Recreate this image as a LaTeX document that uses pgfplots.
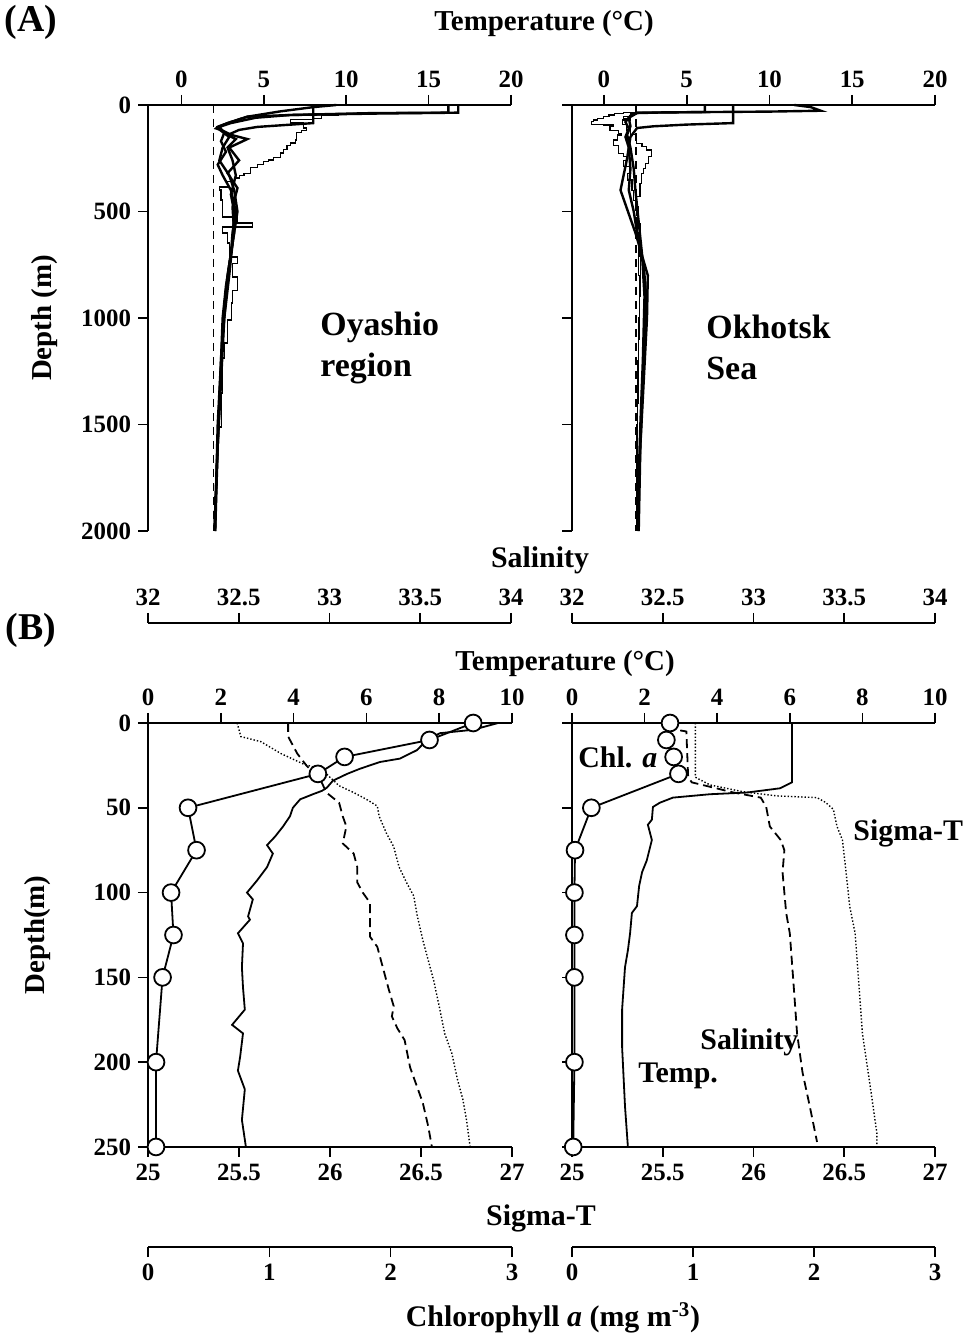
\documentclass[border=0pt]{standalone}
\usepackage{pgfplots}
\pgfplotsset{compat=1.18}
\usepackage{fontspec}
\setmainfont{Liberation Serif}

\newcommand{\fs}[1]{\fontsize{#1}{#1}\selectfont\bfseries}

\pgfplotsset{
  prof/.style={
    scale only axis, enlargelimits=false, clip=false,
    y dir=reverse,
    tick align=outside,
    major tick length=5bp,
    tick style={black, line width=0.8bp},
    axis line style={-, line width=1bp},
    every tick label/.append style={font=\fs{12.5}},
    /pgf/number format/assume math mode=true,
    /pgf/number format/1000 sep={},
  },
  strip/.style={prof, height=1bp, ymin=0, ymax=1, hide y axis},
  profthick/.style={black, line width=1.2bp, no marks},
  profthin/.style={black, line width=0.6bp, no marks, const plot},
  profref/.style={black, line width=0.8bp, dash pattern=on 4bp off 3bp, no marks},
  tline/.style={black, line width=0.9bp, no marks},
  sline/.style={black, line width=0.9bp, dash pattern=on 4.5bp off 2.5bp, no marks},
  dline/.style={black, line width=0.7bp, densely dotted, no marks},
  chlline/.style={black, line width=0.9bp, mark=*, mark size=4.2bp, mark options={fill=white, draw=black, solid, line width=0.9bp}},
}

\begin{document}
\begin{tikzpicture}
\path[use as bounding box] (0,0) rectangle (486bp,667.5bp);

% ---------- (A) Oyashio region ----------
\begin{axis}[prof, at={(74bp,615bp)}, anchor=north west, width=181.5bp, height=213bp,
  xmin=-2.03, xmax=20, ymin=0, ymax=2000,
  axis x line*=top, axis y line*=left,
  xtick={0,5,10,15,20}, ytick={0,500,1000,1500,2000}]
  \addplot[profref] coordinates {(1.95,0) (1.95,2000)};
  \addplot[profthick] coordinates {(16.8,0) (16.8,36) (12,40) (6.6,47) (4.0,55) (2.8,85) (2.2,103) (2.1,110) (2.5,120) (3.0,140) (4.0,160) (2.9,200) (3.5,260) (2.8,320) (3.4,390) (3.1,480) (3.2,600) (3.0,700) (2.8,800) (2.6,950) (2.4,1200) (2.2,1500) (2.1,1800) (2.05,2000)};
  \addplot[profthick] coordinates {(16.2,0) (16.2,36) (11.6,38) (6.6,47) (4.5,60) (3.0,85) (2.3,103) (2.6,130) (2.4,170) (2.7,220) (2.2,280) (2.5,330) (3.0,400) (3.3,500) (3.1,600) (3.0,700) (2.7,850) (2.5,1000) (2.35,1300) (2.2,1600) (2.0,2000)};
  \addplot[profthick] coordinates {(9.4,0) (8.0,10) (6.0,30) (4.0,55) (2.8,85) (2.2,103) (2.3,115) (2.9,150) (2.5,200) (2.3,260) (2.9,330) (3.2,400) (3.4,500) (3.2,600) (2.9,750) (2.7,900) (2.5,1100) (2.3,1400) (2.15,1700) (2.0,2000)};
  \addplot[profthick] coordinates {(8.0,0) (8.0,85) (4.6,103) (3.5,117) (2.8,141) (3.3,160) (2.8,200) (3.1,260) (3.3,330) (3.0,420) (3.2,500) (3.1,650) (2.9,800) (2.6,1000) (2.4,1300) (2.2,1600) (2.05,2000)};
  \addplot[profthin] coordinates {(10.6,40) (9.5,50) (8.5,62) (8.0,70) (6.6,85) (7.4,108) (7.6,118) (7.3,130) (7.0,164) (6.9,178) (6.6,190) (6.4,210) (6.2,225) (6.0,245) (5.6,258) (5.3,267) (5.0,280) (4.6,295) (4.2,320) (3.8,332) (3.5,343) (3.2,360) (2.8,385) (2.3,399) (2.4,446) (2.5,526) (3.4,554) (4.3,573) (2.5,601) (2.8,648) (2.9,714) (3.4,745) (3.1,808) (3.4,870) (3.1,930) (3.06,1009) (2.8,1117) (2.6,1188) (2.5,1352) (2.45,1512) (2.2,1667) (2.15,1840) (2.03,2000)};
\end{axis}
\begin{axis}[strip, at={(74bp,356bp)}, anchor=north west, width=181.5bp,
  xmin=32, xmax=34, axis x line*=top, xtick={32,32.5,33,33.5,34}]
\end{axis}

% ---------- (A) Okhotsk Sea ----------
\begin{axis}[prof, at={(286bp,615bp)}, anchor=north west, width=181.5bp, height=213bp,
  xmin=-1.93, xmax=20, ymin=0, ymax=2000,
  axis x line*=top, axis y line*=left,
  xtick={0,5,10,15,20}, ytick={0,500,1000,1500,2000}, yticklabels={}]
  \addplot[profref] coordinates {(1.95,0) (1.95,2000)};
  \addplot[profthick] coordinates {(11.5,0) (12.5,10) (13.1,27) (10,31) (5,34) (2.0,36) (1.6,50) (1.3,80) (1.5,110) (1.3,150) (1.5,200) (1.6,300) (1.5,400) (1.8,500) (2.0,600) (2.4,750) (2.55,900) (2.45,1100) (2.3,1400) (2.15,1700) (2.05,2000)};
  \addplot[profthick] coordinates {(7.8,0) (7.8,85) (5,92) (3,100) (2.0,108) (1.6,150) (1.4,250) (1.0,400) (1.9,600) (2.65,800) (2.6,1000) (2.4,1300) (2.2,1600) (2.1,2000)};
  \addplot[profthick] coordinates {(6.1,0) (6.1,33) (3.5,35) (2.0,38) (1.5,60) (1.6,100) (1.4,140) (1.6,200) (1.8,300) (1.9,400) (2.1,550) (2.3,700) (2.45,900) (2.35,1200) (2.2,1500) (2.0,2000)};
  \addplot[profthin] coordinates {(1.93,36) (1.2,40) (0.66,47) (0.3,55) (-0.04,63) (-0.4,70) (-0.65,78) (-0.75,90) (-0.04,94) (0.56,102) (0.36,120) (0.87,133) (1.07,141) (0.8,164) (0.56,190) (0.87,227) (1.2,243) (1.37,260) (1.17,290) (1.57,321) (1.4,352) (1.7,400) (1.8,450) (1.95,520) (2.05,600) (2.1,800) (2.15,1000) (2.1,1200) (2.05,1500) (2.0,2000)};
  \addplot[profthin] coordinates {(1.93,40) (1.6,55) (1.2,65) (1.57,70) (1.1,90) (1.37,117) (1.6,140) (1.97,180) (2.3,195) (2.58,211) (2.88,243) (2.68,274) (2.5,300) (2.38,321) (2.28,368) (2.18,430) (1.97,446) (1.93,477) (2.07,556) (2.18,712) (2.2,900) (2.15,1100) (2.1,1400) (2.05,1700) (2.02,2000)};
\end{axis}
\begin{axis}[strip, at={(286bp,356bp)}, anchor=north west, width=181.5bp,
  xmin=32, xmax=34, axis x line*=top, xtick={32,32.5,33,33.5,34}]
\end{axis}

% ---------- (B) left ----------
\begin{axis}[prof, at={(74bp,306bp)}, anchor=north west, width=182bp, height=212bp,
  xmin=0, xmax=10, ymin=0, ymax=250,
  axis x line*=top, axis y line*=left,
  xtick={0,2,4,6,8,10}, ytick={0,50,100,150,200,250}]
  \addplot[tline] coordinates {(9.62,0) (8.93,4) (8.02,6) (7.66,10) (7.39,16) (6.92,21) (6.37,23) (5.82,27) (5.47,30) (5.08,34) (4.92,38) (4.78,40) (4.53,42) (4.18,45) (3.98,50) (3.90,55) (3.71,61) (3.49,67) (3.27,72) (3.43,77) (3.27,85) (2.99,93) (2.72,100) (2.88,104) (2.75,114) (2.80,116) (2.47,124) (2.61,130) (2.58,144) (2.61,156) (2.66,169) (2.31,178) (2.61,183) (2.53,197) (2.47,205) (2.66,216) (2.58,234) (2.69,250)};
\end{axis}
\begin{axis}[prof, at={(74bp,306bp)}, anchor=north west, width=182bp, height=212bp,
  xmin=25, xmax=27, ymin=0, ymax=250,
  axis x line*=bottom, hide y axis, xtick={25,25.5,26,26.5,27}]
  \addplot[dline] coordinates {(25.49,0) (25.51,8) (25.62,11) (25.73,18) (25.85,24) (25.91,26) (25.98,30) (26.05,37) (26.13,41) (26.20,45) (26.26,49) (26.27,55) (26.31,65) (26.35,73) (26.38,85) (26.42,94) (26.46,102) (26.48,114) (26.51,128) (26.54,140) (26.57,152) (26.60,167) (26.63,183) (26.67,195) (26.70,210) (26.73,222) (26.75,234) (26.77,250)};
\end{axis}
\begin{axis}[prof, at={(74bp,306bp)}, anchor=north west, width=182bp, height=212bp,
  xmin=32, xmax=34, ymin=0, ymax=250, hide axis]
  \addplot[sline] coordinates {(32.77,0) (32.77,8) (32.82,18) (32.87,25) (32.95,34) (32.98,41) (33.05,47) (33.07,55) (33.09,61) (33.07,71) (33.13,77) (33.15,85) (33.15,94) (33.18,100) (33.22,106) (33.22,116) (33.22,126) (33.26,132) (33.29,144) (33.32,156) (33.35,167) (33.34,173) (33.37,180) (33.41,187) (33.44,203) (33.48,215) (33.51,224) (33.54,238) (33.56,250)};
\end{axis}
\begin{axis}[prof, at={(74bp,306bp)}, anchor=north west, width=182bp, height=262bp,
  xmin=0, xmax=3, ymin=0, ymax=309,
  axis x line*=bottom, hide y axis, xtick={0,1,2,3}]
  \addplot[chlline] coordinates {(2.68,0) (2.32,10) (1.62,20) (1.40,30) (0.33,50) (0.40,75) (0.19,100) (0.21,125) (0.12,150) (0.066,200) (0.066,250)};
\end{axis}

% ---------- (B) right ----------
\begin{axis}[prof, at={(286bp,306bp)}, anchor=north west, width=181.5bp, height=212bp,
  xmin=0, xmax=10, ymin=0, ymax=250,
  axis x line*=top, axis y line*=left,
  xtick={0,2,4,6,8,10}, ytick={0,50,100,150,200,250}, yticklabels={}]
  \addplot[tline] coordinates {(6.06,0) (6.06,35) (5.73,38.5) (4.82,41) (3.80,42) (2.78,44) (2.42,47) (2.23,49.5) (2.20,57) (2.09,60) (2.2,69) (2.06,81) (1.93,88) (1.85,96) (1.79,108) (1.65,112) (1.60,124) (1.54,134) (1.46,144) (1.38,169) (1.38,191) (1.46,226) (1.54,250)};
\end{axis}
\begin{axis}[prof, at={(286bp,306bp)}, anchor=north west, width=181.5bp, height=212bp,
  xmin=25, xmax=27, ymin=0, ymax=250,
  axis x line*=bottom, hide y axis, xtick={25,25.5,26,26.5,27}]
  \addplot[dline] coordinates {(25.68,0) (25.68,32) (25.76,36.5) (25.94,40.5) (26.13,43) (26.35,44) (26.40,47) (26.44,51) (26.46,61) (26.49,69) (26.51,88) (26.53,108) (26.56,124) (26.58,153) (26.60,183) (26.64,212) (26.68,242) (26.68,250)};
\end{axis}
\begin{axis}[prof, at={(286bp,306bp)}, anchor=north west, width=181.5bp, height=212bp,
  xmin=32, xmax=34, ymin=0, ymax=250, hide axis]
  \addplot[sline] coordinates {(32.52,3) (32.63,5) (32.64,32) (32.66,35) (32.89,41) (33.04,44) (33.07,49.5) (33.09,61) (33.15,69) (33.17,75) (33.16,88) (33.18,112) (33.20,124) (33.22,153) (33.24,183) (33.27,206) (33.31,226) (33.35,247)};
\end{axis}
\begin{axis}[prof, at={(286bp,306bp)}, anchor=north west, width=181.5bp, height=262bp,
  xmin=0, xmax=3, ymin=0, ymax=309,
  axis x line*=bottom, hide y axis, xtick={0,1,2,3}]
  \addplot[chlline] coordinates {(0.81,0) (0.78,10) (0.84,20) (0.88,30) (0.16,50) (0.025,75) (0.02,100) (0.02,125) (0.02,150) (0.02,200) (0.01,250)};
\end{axis}

% ---------- texts ----------
\node[font=\fs{19}] at (15.5bp,656.5bp) {(A)};
\node[font=\fs{14.5}] at (272bp,655.5bp) {Temperature (°C)};
\node[font=\fs{14.5}, rotate=90] at (22.5bp,508.5bp) {Depth (m)};
\node[font=\fs{17}, anchor=west, inner sep=0pt] at (160bp,504bp) {Oyashio};
\node[font=\fs{17}, anchor=west, inner sep=0pt] at (160bp,483.5bp) {region};
\node[font=\fs{17}, anchor=west, inner sep=0pt] at (353bp,504bp) {Okhotsk};
\node[font=\fs{17}, anchor=west, inner sep=0pt] at (353bp,483.5bp) {Sea};
\node[font=\fs{15}] at (270bp,387.5bp) {Salinity};
\node[font=\fs{19}] at (15.5bp,352.5bp) {(B)};
\node[font=\fs{14.5}] at (282.5bp,335.5bp) {Temperature (°C)};
\node[font=\fs{14.5}, rotate=90] at (19bp,200bp) {Depth(m)};
\node[font=\fs{15}, anchor=west, inner sep=0pt] at (289bp,289bp) {Chl. \textit{a}};
\node[font=\fs{15}, anchor=west, inner sep=0pt] at (426.5bp,251bp) {Sigma-T};
\node[font=\fs{15}, anchor=west, inner sep=0pt] at (350bp,146.5bp) {Salinity};
\node[font=\fs{15}, anchor=west, inner sep=0pt] at (319bp,129.5bp) {Temp.};
\node[font=\fs{15}] at (270.5bp,58.5bp) {Sigma-T};
\node[font=\fs{15}] at (276.5bp,8.5bp) {Chlorophyll \textit{a} (mg m\textsuperscript{-3})};
\end{tikzpicture}
\end{document}
